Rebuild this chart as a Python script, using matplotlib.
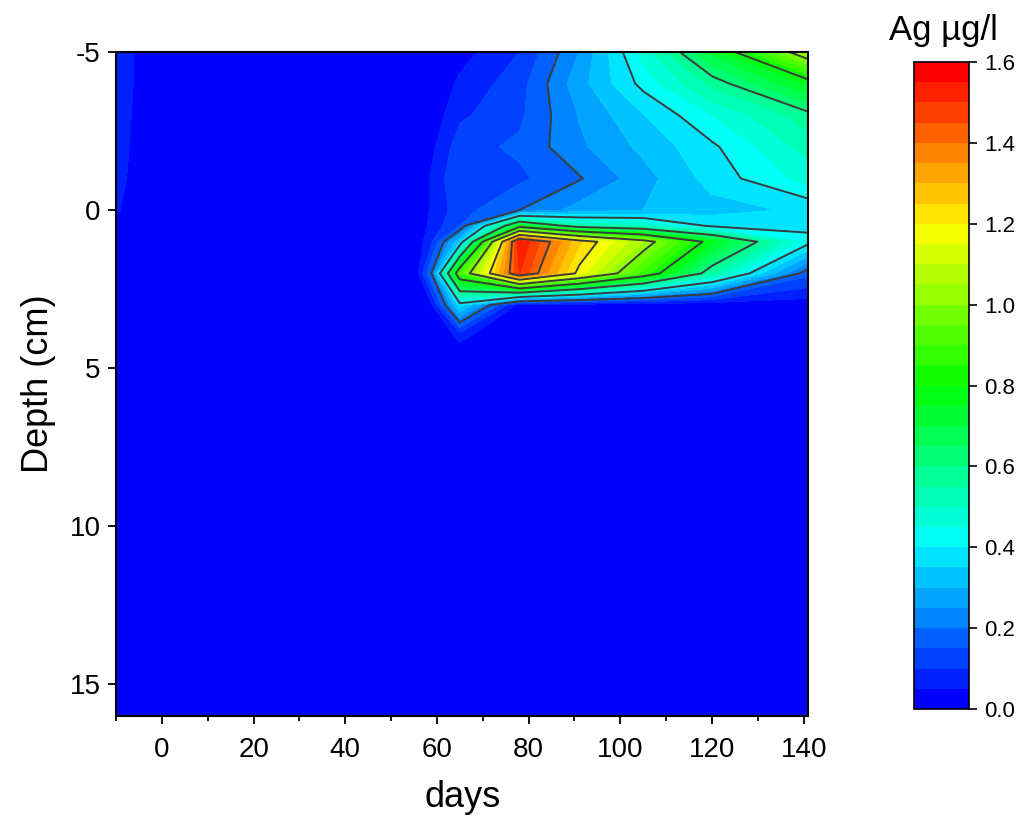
import numpy as np
import matplotlib
matplotlib.use("Agg")
import matplotlib.pyplot as plt
from matplotlib.colors import LinearSegmentedColormap
from matplotlib.ticker import MultipleLocator, FormatStrFormatter

plt.rcParams['font.family'] = ['Liberation Sans', 'DejaVu Sans']
plt.rcParams['axes.unicode_minus'] = False

# sampling grid
days = [-10, 0, 20, 40, 55, 59, 65, 78, 91, 105, 120, 141]
depths = [-5, -4, -3, -2, -1, 0, 0.5, 1, 2, 3, 4, 5, 10, 16]

# Ag concentration (ug/l), one row per depth, one column per day
ag_m5 = [0.08, 0, 0, 0, 0, 0.00, 0.03, 0.10, 0.25, 0.47, 0.715, 1.07]
ag_m4 = [0.08, 0, 0, 0, 0, 0.01, 0.06, 0.13, 0.28, 0.417, 0.565, 0.76]
ag_m3 = [0.075, 0, 0, 0, 0, 0.02, 0.09, 0.14, 0.253, 0.347, 0.45, 0.58]
ag_m2 = [0.07, 0, 0, 0, 0, 0.04, 0.13, 0.16, 0.24, 0.313, 0.39, 0.52]
ag_m1 = [0.065, 0, 0, 0, 0, 0.06, 0.15, 0.14, 0.195, 0.28, 0.37, 0.47]
ag_0 = [0.055, 0, 0, 0, 0, 0.06, 0.13, 0.20, 0.27, 0.30, 0.33, 0.36]
ag_05 = [0.04, 0, 0, 0, 0, 0.07, 0.15, 0.75, 0.55, 0.50, 0.39, 0.385]
ag_1 = [0.02, 0, 0, 0, 0, 0.10, 0.34, 1.55, 1.26, 1.05, 0.76, 0.42]
ag_2 = [0, 0, 0, 0, 0, 0.21, 0.90, 1.50, 1.18, 0.88, 0.55, 0.165]
ag_3 = [0, 0, 0, 0, 0, 0.05, 0.37, 0.03, 0.02, 0.01, 0.01, 0.02]
ag_4 = [0, 0, 0, 0, 0, 0.01, 0.06, 0, 0, 0, 0, 0]
ag_5 = [0] * 12
ag_10 = [0] * 12
ag_16 = [0] * 12

z = np.array([ag_m5, ag_m4, ag_m3, ag_m2, ag_m1, ag_0, ag_05, ag_1,
              ag_2, ag_3, ag_4, ag_5, ag_10, ag_16])
x, y = np.meshgrid(days, depths)

fill_levels = np.linspace(0, 1.6, 33)
line_levels = [0.2, 0.4, 0.6, 0.8, 1.0, 1.2, 1.4]

rainbow = LinearSegmentedColormap.from_list(
    "origin_rainbow",
    [(0, 0, 1), (0, 1, 1), (0, 1, 0), (1, 1, 0), (1, 0, 0)])
band_colors = [rainbow(v) for v in np.linspace(0, 1, len(fill_levels) - 1)]

fig = plt.figure(figsize=(10.27, 8.25), dpi=100)
ax = fig.add_axes([0.113, 0.132, 0.674, 0.805])
cax = fig.add_axes([0.890, 0.1406, 0.0536, 0.7842])

cf = ax.contourf(x, y, z, levels=fill_levels, colors=band_colors)
ax.contour(x, y, z, levels=line_levels, colors="#3c3c3c", linewidths=1.4)

ax.set_xlim(-10, 141)
ax.set_ylim(16, -5)
ax.xaxis.set_major_locator(MultipleLocator(20))
ax.xaxis.set_minor_locator(MultipleLocator(10))
ax.yaxis.set_major_locator(MultipleLocator(5))
ax.tick_params(axis="both", which="major", direction="out", length=6, width=1.3,
               labelsize=20)
ax.tick_params(axis="x", which="major", pad=9)
ax.tick_params(axis="y", which="major", pad=5)
ax.tick_params(axis="x", which="minor", direction="out", length=3.5, width=1.3)
ax.tick_params(top=False, right=False)
for s in ax.spines.values():
    s.set_linewidth(1.5)

ax.set_xlabel("days", fontsize=26, labelpad=12)
ax.set_ylabel("Depth (cm)", fontsize=26, labelpad=10)

cb = fig.colorbar(cf, cax=cax, ticks=np.arange(0, 1.61, 0.2))
cb.ax.yaxis.set_major_formatter(FormatStrFormatter("%.1f"))
cb.ax.tick_params(direction="out", length=6, width=1.2, labelsize=16, pad=5)
cb.outline.set_linewidth(1.2)
cb.ax.minorticks_off()
fig.text(0.919, 0.963, "Ag \u00b5g/l", fontsize=25, ha="center", va="center")

fig.savefig("out.png", dpi=100)
